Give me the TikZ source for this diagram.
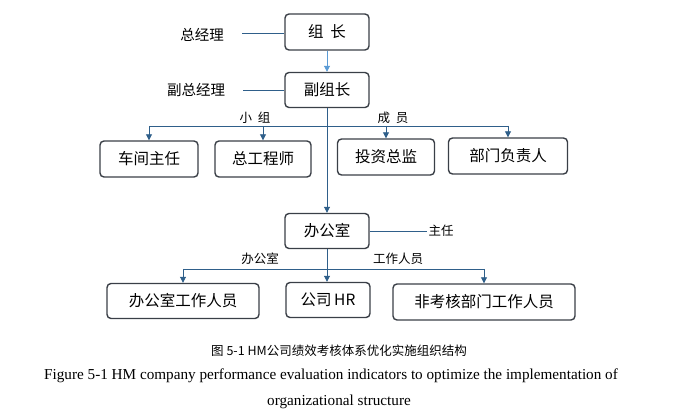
\documentclass[tikz,border=0pt]{standalone}
\usepackage{fontspec}
\setmainfont{Liberation Serif}
\newfontfamily\cjk{Noto Sans CJK SC}
\usetikzlibrary{arrows.meta}
\definecolor{ln}{HTML}{2F5F8A}
\definecolor{lb}{HTML}{5B9BD5}
\definecolor{bd}{HTML}{3A3F47}
\begin{document}
\begin{tikzpicture}[x=1pt,y=-1pt,
 box/.style={draw=bd,line width=1.4pt,rounded corners=4pt,inner sep=0pt,font=\cjk\fontsize{15.5}{17}\selectfont},
 lab/.style={font=\cjk\fontsize{12.5}{14}\selectfont,inner sep=1pt},
 conn/.style={draw=ln,line width=0.9pt},
 arr/.style={conn,-{Triangle[length=6pt,width=6pt]}}]
\useasboundingbox (0,0) rectangle (678,411);
\node[box,minimum width=84pt,minimum height=36pt] (zz) at (327,32) {组\ \ 长};
\node[box,minimum width=84pt,minimum height=35pt] (fz) at (327,90) {副组长};
\node[box,minimum width=98pt,minimum height=36pt] (cj) at (149,159) {车间主任};
\node[box,minimum width=96pt,minimum height=36pt] (zg) at (263,159) {总工程师};
\node[box,minimum width=97pt,minimum height=36pt] (tz) at (386,157) {投资总监};
\node[box,minimum width=119pt,minimum height=36pt] (bm) at (508,156) {部门负责人};
\node[box,minimum width=84pt,minimum height=35pt] (bg) at (327,231) {办公室};
\node[box,minimum width=152pt,minimum height=35pt] (bgr) at (183,301) {办公室工作人员};
\node[box,minimum width=84pt,minimum height=35pt] (hr) at (328,300) {公司\,HR};
\node[box,minimum width=182pt,minimum height=36pt] (fk) at (484,302) {非考核部门工作人员};
\node[lab,font=\cjk\fontsize{14.5}{16}\selectfont] (l1) at (202,35) {总经理};
\node[lab,font=\cjk\fontsize{14.5}{16}\selectfont] (l2) at (196,90) {副总经理};
\node[lab] at (255,118) {小\ \ 组};
\node[lab] at (393,118) {成\ \ 员};
\node[lab] (l3) at (441,231) {主任};
\node[lab] at (260,259) {办公室};
\node[lab] at (398,259) {工作人员};
\draw[conn] (242,33) -- (zz.west|-242,33);
\draw[conn] (243,90) -- (fz.west);
\draw[conn] (bg.east) -- (l3.west);
\draw[draw=lb,line width=0.9pt,-{Triangle[length=6pt,width=6pt]}] (zz.south) -- (fz.north);
\draw[arr] (fz.south) -- (bg.north);
\coordinate (b1) at (149,126); \coordinate (b2) at (508,126);
\draw[conn] (b1) -- (b2);
\draw[arr] (b1) -- (cj.north);
\draw[arr] (zg.north|-b1) -- (zg.north);
\draw[arr] (tz.north|-b1) -- (tz.north);
\draw[arr] (b2) -- (bm.north);
\coordinate (c1) at (183,269); \coordinate (c2) at (484,269);
\draw[conn] (c1) -- (c2);
\draw[arr] (c1) -- (bgr.north);
\draw[arr] (bg.south) -- (hr.north-|bg.south);
\draw[arr] (c2) -- (fk.north);
\node[font=\cjk\fontsize{12.5}{14}\selectfont] at (339,351) {图 5-1 HM公司绩效考核体系优化实施组织结构};
\node[font=\fontsize{15.2}{17}\selectfont] at (331,376) {Figure 5-1 HM company performance evaluation indicators to optimize the implementation of};
\node[font=\fontsize{15.2}{17}\selectfont] at (339,402) {organizational structure};
\end{tikzpicture}
\end{document}
